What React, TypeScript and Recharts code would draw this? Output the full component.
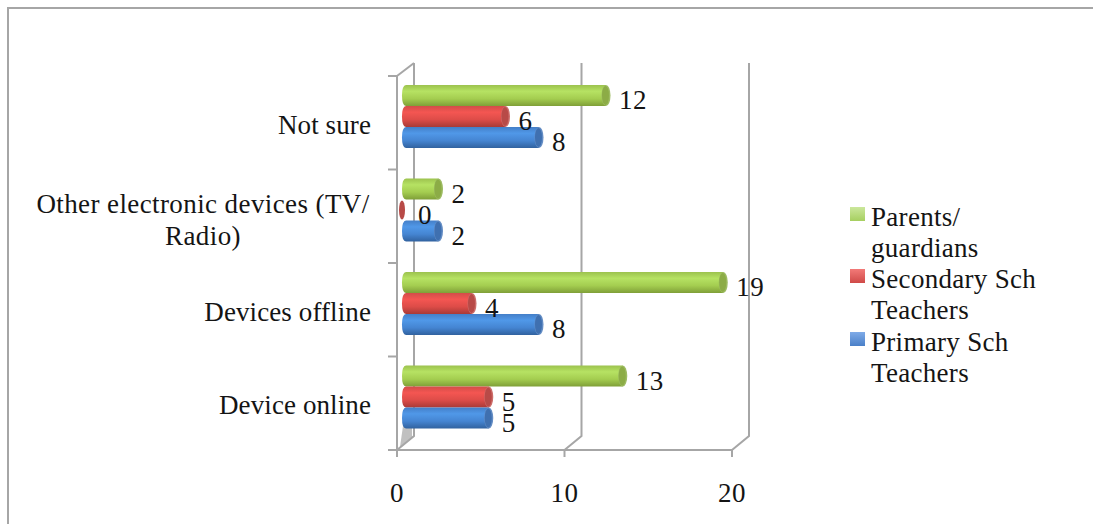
import React from "react";
import { BarChart, Bar, XAxis, YAxis, CartesianGrid, LabelList } from "recharts";

const categories = ["Not sure", "Other electronic devices (TV/ Radio)", "Devices offline", "Device online"];
const parents = [12, 2, 19, 13];
const secondary = [6, 0, 4, 5];
const primary = [8, 2, 8, 5];
const xTicks = [0, 10, 20];

const chartData = categories.map((name, i) => ({
  name,
  parents: parents[i],
  secondary: secondary[i],
  primary: primary[i],
}));

const FONT = "'Liberation Serif', serif";
const TEXT = "#141414";
const WALL = "#a6a6a6";
const BAND = 93.5;
const DEPTH_X = 17;
const DEPTH_Y = 14;
const BAR_SHIFT_X = 8;
const BAR_SHIFT_Y = -6;
const FONT_SIZE = 27;
const SPACING = 0.4;

// top of the legend is Parents, same order as the bars
const legendItems = [
  { lines: ["Parents/", "guardians"], from: "#cbe79c", to: "#a6cf60" },
  { lines: ["Secondary Sch", "Teachers"], from: "#f27a78", to: "#cf4a48" },
  { lines: ["Primary Sch", "Teachers"], from: "#7fabe8", to: "#4a80c8" },
];

const Cylinder = (props: any) => {
  const { x, y, width, height, gradient, cap, edge } = props;
  const left = x + BAR_SHIFT_X - 3;
  const right = x + BAR_SHIFT_X + width;
  const top = y + BAR_SHIFT_Y;
  const bottom = top + height;
  const mid = top + height / 2;
  if (width <= 0) {
    return <ellipse cx={left} cy={mid} rx={3} ry={height / 2 - 1} fill={cap} />;
  }
  return (
    <g>
      <path
        d={`M${left + 4},${top} L${right},${top} L${right},${bottom} L${left + 4},${bottom} Q${left},${bottom} ${left},${mid} Q${left},${top} ${left + 4},${top} Z`}
        fill={`url(#${gradient})`}
      />
      <ellipse cx={right} cy={mid} rx={4.5} ry={height / 2} fill={edge} />
      <ellipse cx={right - 0.5} cy={mid} rx={3.5} ry={height / 2 - 1} fill={cap} />
    </g>
  );
};

const ValueLabel = (props: any) => {
  const { x, y, width, height, value } = props;
  return (
    <text
      x={x + BAR_SHIFT_X + width + 13}
      y={y + BAR_SHIFT_Y + height / 2 + 13.5}
      fontFamily={FONT}
      fontSize={FONT_SIZE}
      letterSpacing={SPACING}
      fill={TEXT}
    >
      {value}
    </text>
  );
};

const CategoryTick = (props: any) => {
  const { x, y, payload, index } = props;
  const isLast = index === categories.length - 1;
  const wrapped = payload.value.includes("(TV/ ");
  return (
    <g>
      <path d={`M${x - 9},${y - BAND / 2} L${x},${y - BAND / 2}`} stroke={WALL} strokeWidth={2} />
      {isLast && <path d={`M${x - 9},${y + BAND / 2} L${x},${y + BAND / 2}`} stroke={WALL} strokeWidth={2} />}
      {wrapped ? (
        <text fontFamily={FONT} fontSize={FONT_SIZE} letterSpacing={SPACING} fill={TEXT} textAnchor="middle">
          <tspan x={203} y={y - 3}>Other electronic devices (TV/</tspan>
          <tspan x={203} y={y + 29}>Radio)</tspan>
        </text>
      ) : (
        <text x={371} y={y + 11} fontFamily={FONT} fontSize={FONT_SIZE} letterSpacing={0.1} fill={TEXT} textAnchor="end">
          {payload.value}
        </text>
      )}
    </g>
  );
};

const ValueTick = (props: any) => {
  const { x, y, payload } = props;
  return (
    <g>
      <path d={`M${x},${y} L${x},${y + 7}`} stroke={WALL} strokeWidth={2} />
      <text x={x} y={y + 52} textAnchor="middle" fontFamily={FONT} fontSize={FONT_SIZE} letterSpacing={SPACING} fill={TEXT}>
        {payload.value}
      </text>
    </g>
  );
};

// back wall: each gridline kinks forward to its tick on the floor
const WallLine = (props: any) => {
  const { x1, y1, y2, index } = props;
  const top = Math.min(y1, y2);
  const bottom = Math.max(y1, y2);
  return (
    <g>
      {index === 0 && (
        <polygon
          points={`${x1 + 3},${bottom - 3} ${x1 + 15},${bottom - 13} ${x1 + 15},${bottom - 24} ${x1 + 6},${bottom - 24}`}
          fill="#c0c0c0"
        />
      )}
      <path
        d={`M${x1},${bottom} L${x1 + DEPTH_X},${bottom - DEPTH_Y} L${x1 + DEPTH_X},${top - 13}`}
        fill="none"
        stroke={WALL}
        strokeWidth={2}
      />
      {index === 0 && <path d={`M${x1},${top} L${x1 + DEPTH_X},${top - 13}`} stroke={WALL} strokeWidth={2} />}
    </g>
  );
};

const stops = (top: string, bright: string, mid: string, low: string) => (
  <>
    <stop offset="0%" stopColor={top} />
    <stop offset="30%" stopColor={bright} />
    <stop offset="65%" stopColor={mid} />
    <stop offset="100%" stopColor={low} />
  </>
);

export default function App() {
  return (
    <div style={{ position: "fixed", left: 0, top: 0, width: 1093, height: 524, background: "#fff", overflow: "hidden" }}>
      <div style={{ position: "absolute", left: 8, top: 7, right: 0, height: 2, background: WALL }} />
      <div style={{ position: "absolute", left: 7, top: 7, bottom: 0, width: 2, background: WALL }} />

      <BarChart
        width={1093}
        height={524}
        data={chartData}
        layout="vertical"
        barSize={21}
        barGap={0}
        barCategoryGap={0}
        margin={{ top: 76, right: 361, bottom: 0, left: 0 }}
        style={{ position: "absolute", left: 0, top: 0 }}
      >
        <defs>
          <linearGradient id="gGreen" x1="0" y1="0" x2="0" y2="1">
            {stops("#9cc24e", "#b6e263", "#a4cd50", "#7f9f38")}
          </linearGradient>
          <linearGradient id="gRed" x1="0" y1="0" x2="0" y2="1">
            {stops("#d24d49", "#f45652", "#dd4c48", "#a83a37")}
          </linearGradient>
          <linearGradient id="gBlue" x1="0" y1="0" x2="0" y2="1">
            {stops("#447fc8", "#5098e8", "#4585d2", "#31629f")}
          </linearGradient>
        </defs>
        <CartesianGrid horizontal={false} vertical={(p: any) => <WallLine key={p.index} {...p} />} syncWithTicks />
        <XAxis
          type="number"
          domain={[0, 20]}
          ticks={xTicks}
          height={74}
          tickLine={false}
          tickSize={0}
          tickMargin={0}
          stroke={WALL}
          strokeWidth={2}
          tick={<ValueTick />}
          interval={0}
        />
        <YAxis
          type="category"
          dataKey="name"
          width={397}
          tickLine={false}
          tickSize={0}
          tickMargin={0}
          stroke={WALL}
          strokeWidth={2}
          tick={<CategoryTick />}
          interval={0}
        />
        <Bar
          dataKey="parents"
          isAnimationActive={false}
          shape={(p: any) => <Cylinder {...p} gradient="gGreen" cap="#8cac46" edge="#9dbb62" />}
        >
          <LabelList dataKey="parents" content={<ValueLabel />} />
        </Bar>
        <Bar
          dataKey="secondary"
          isAnimationActive={false}
          shape={(p: any) => <Cylinder {...p} gradient="gRed" cap="#b84a47" edge="#cc6d6a" />}
        >
          <LabelList dataKey="secondary" content={<ValueLabel />} />
        </Bar>
        <Bar
          dataKey="primary"
          isAnimationActive={false}
          shape={(p: any) => <Cylinder {...p} gradient="gBlue" cap="#3f70b0" edge="#648dc4" />}
        >
          <LabelList dataKey="primary" content={<ValueLabel />} />
        </Bar>
      </BarChart>

      <div style={{ position: "absolute", left: 850, top: 201.5, fontFamily: FONT, fontSize: FONT_SIZE, lineHeight: "31.3px", letterSpacing: 0.3, color: TEXT }}>
        {legendItems.map((item) => (
          <div key={item.lines[0]} style={{ position: "relative", paddingLeft: 21 }}>
            <span
              style={{
                position: "absolute",
                left: 0,
                top: 5,
                width: 15,
                height: 14,
                background: `linear-gradient(${item.from}, ${item.to})`,
              }}
            />
            {item.lines.map((line) => (
              <div key={line}>{line}</div>
            ))}
          </div>
        ))}
      </div>
    </div>
  );
}
